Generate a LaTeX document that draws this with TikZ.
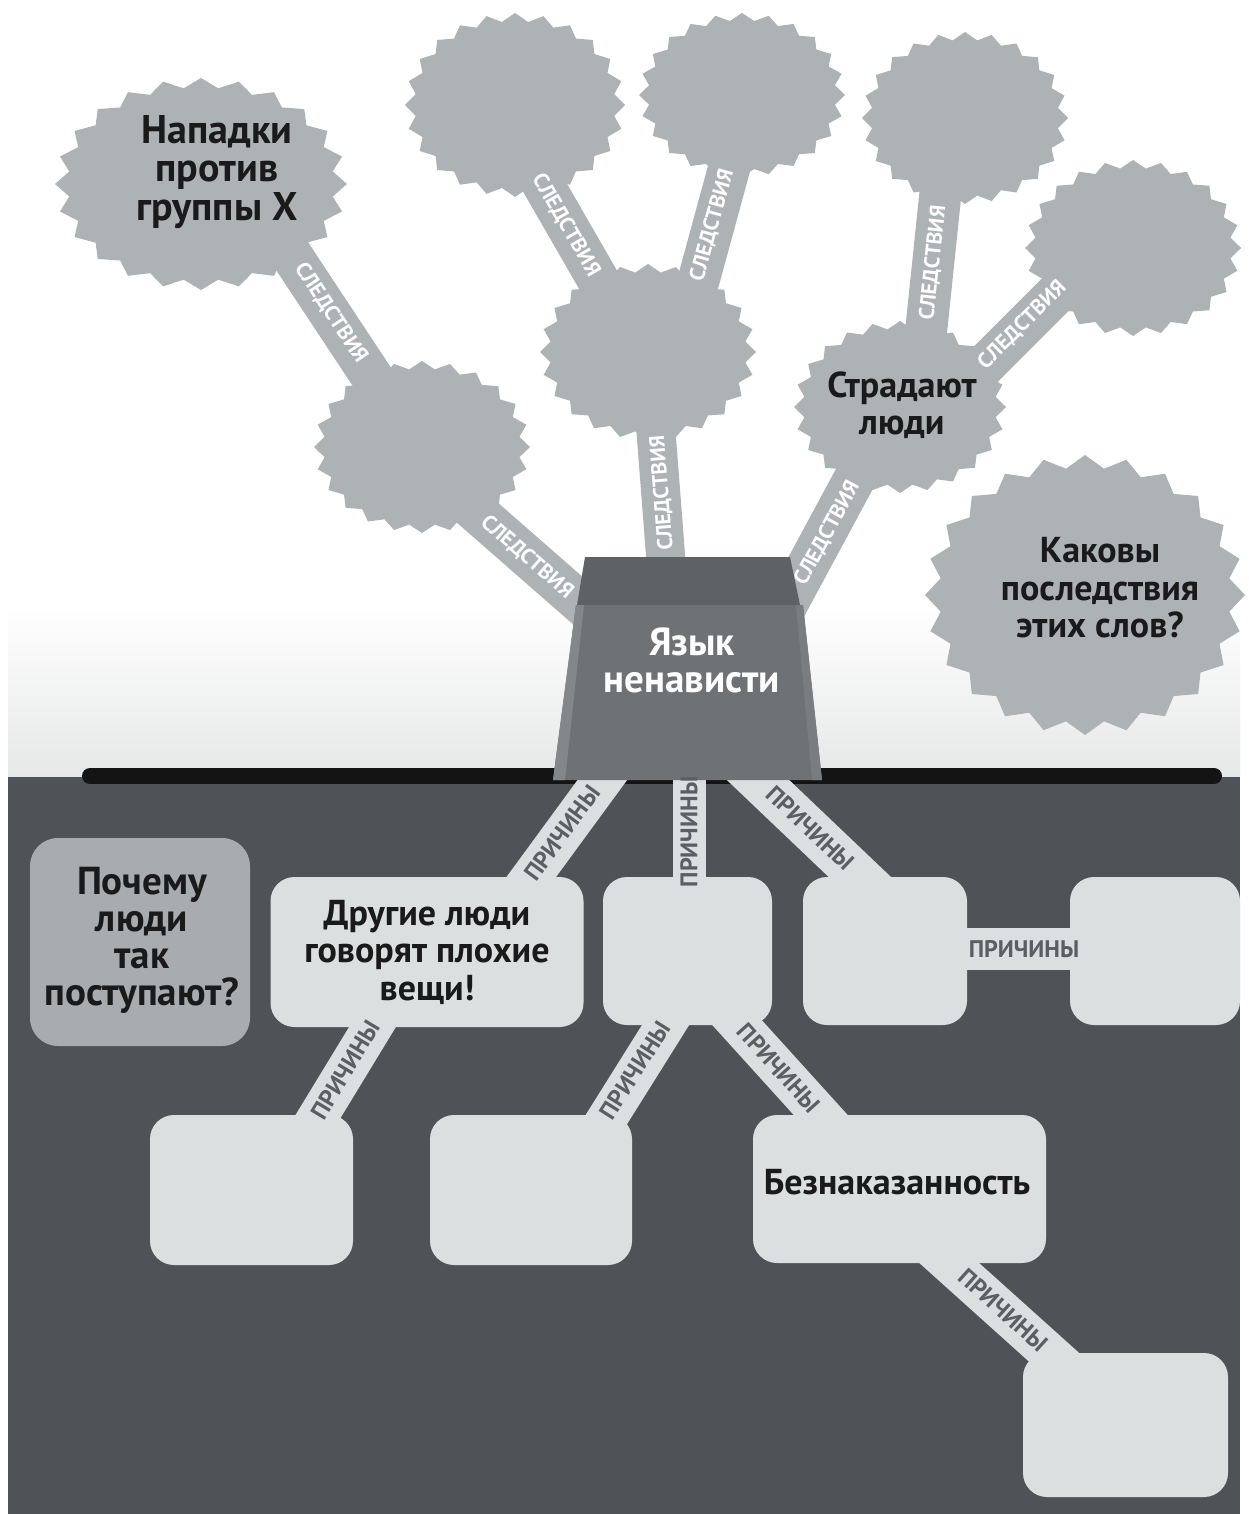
\documentclass[tikz,border=0pt]{standalone}
\usepackage{fontspec}
\setmainfont{PT Sans}
\usetikzlibrary{calc}
\pgfdeclarelayer{bg}
\pgfdeclarelayer{bands}
\pgfdeclarelayer{top}
\pgfsetlayers{bg,bands,main,top}
\definecolor{burstc}{HTML}{ADB2B5}
\definecolor{boxc}{HTML}{DCDFE0}
\definecolor{qboxc}{HTML}{A8ACAF}
\definecolor{groundc}{HTML}{4E5357}
\definecolor{gradc}{HTML}{E6E7E7}
\definecolor{lidc}{HTML}{5F6264}
\definecolor{frontc}{HTML}{6F7275}
\definecolor{lstripc}{HTML}{84878A}
\definecolor{rstripc}{HTML}{7A7D7F}
\definecolor{causetxt}{HTML}{5B5F63}
\definecolor{inkc}{HTML}{1A1A1A}
\tikzset{
  bigtext/.style={font=\bfseries\fontsize{36}{37.5}\selectfont, text=inkc, align=center, inner sep=0pt},
  largetext/.style={font=\bfseries\fontsize{40}{38.5}\selectfont, text=inkc, align=center, inner sep=0pt},
  hatetext/.style={font=\bfseries\fontsize{39}{37}\selectfont, text=white, align=center, inner sep=0pt},
  effband/.style={draw=burstc, line width=42pt},
  causeband/.style={draw=boxc, line width=40pt},
  efflabel/.style={font=\bfseries\fontsize{21.5}{21.5}\selectfont, text=white, inner sep=0pt},
  causelabel/.style={font=\bfseries\fontsize{24}{24}\selectfont, text=causetxt, inner sep=0pt},
  lbox/.style={fill=boxc, rounded corners=24pt, inner sep=0pt},
  qbox/.style={fill=qboxc, rounded corners=28pt, inner sep=0pt},
}
\newcommand{\starblob}[5]{%
  \fill[burstc] plot[variable=\k, samples=49, domain=0:48]
    ({#2+#4*(1-0.045*(1-cos(\k*180)))*cos(\k*7.5)},
     {#3+#5*(1-0.045*(1-cos(\k*180)))*sin(\k*7.5)}) -- cycle;
  \coordinate (#1) at (#2,#3);
}
\begin{document}
\begin{tikzpicture}[x=1pt, y=-1pt]
\useasboundingbox (0,0) rectangle (1248,1514);
\begin{pgfonlayer}{bg}
  \fill[white] (0,0) rectangle (1248,1514);
  \shade[top color=white, bottom color=gradc] (8,607) rectangle (1240,777);
  \fill[groundc] (8,777) rectangle (1240,1514);
  \draw[black!92, line width=16pt, line cap=round] (90,776) -- (1214,776);
\end{pgfonlayer}

% consequence bursts
\starblob{A}{201}{184}{146}{106}
\starblob{B}{422}{447}{108}{86}
\starblob{C}{515}{105}{110}{92}
\starblob{D}{742}{95}{103}{82}
\starblob{E}{648}{352}{108}{88}
\starblob{F}{965}{118}{103}{86}
\starblob{G}{1133}{248}{108}{88}
\starblob{H}{900}{407}{106}{86}
\starblob{I}{1085}{595}{160}{140}

\node[largetext] (At) at (217,172) {Нападки\\против\\группы X};
\node[bigtext] (Ht) at (902,405) {Страдают\\люди};
\node[bigtext] (It) at (1100,588) {Каковы\\последствия\\этих слов?};

% hate speech box
\fill[lidc] (585,557) -- (790,557) -- (800,605) -- (577,605) -- cycle;
\fill[frontc] (576,605) -- (803,605) -- (822,780) -- (553,780) -- cycle;
\fill[lstripc] (576,605) -- (584,605) -- (565,780) -- (553,780) -- cycle;
\fill[rstripc] (796,605) -- (803,605) -- (822,780) -- (812,780) -- cycle;
\node[hatetext] (hate) at (692,660) {Язык\\ненависти};

% cause boxes
\node[qbox, minimum width=220pt, minimum height=208pt] (pq) at (140,942) {};
\node[largetext, font=\bfseries\fontsize{39}{37}\selectfont] (pqt) at (142,940) {Почему\\люди\\так\\поступают?};
\node[lbox, minimum width=313pt, minimum height=150pt, bigtext] (dr) at (427,952) {Другие люди\\говорят плохие\\вещи!};
\node[lbox, minimum width=169pt, minimum height=148pt] (mid) at (687.5,951) {};
\node[lbox, minimum width=164pt, minimum height=148pt] (r1) at (885,951) {};
\node[lbox, minimum width=170pt, minimum height=148pt] (r2) at (1155,951) {};
\node[lbox, minimum width=203pt, minimum height=150pt] (b1) at (251.5,1190) {};
\node[lbox, minimum width=202pt, minimum height=150pt] (b2) at (531,1190) {};
\node[lbox, minimum width=293pt, minimum height=148pt] (bez) at (899.5,1189) {};
\node[bigtext] (bezt) at (897,1182) {Безнаказанность};
\node[lbox, minimum width=205pt, minimum height=144pt] (br) at (1125.5,1425) {};

\begin{pgfonlayer}{bands}
  \draw[effband] ([shift={(54,16)}]A) -- ([shift={(-15,-17)}]B);
  \draw[effband] ([shift={(18,33)}]B) -- ([shift={(-92,-40)}]hate.center);
  \draw[effband] ([shift={(-9,15)}]C) -- ([shift={(-21,-22)}]E);
  \draw[effband] ([shift={(3,15)}]D) -- ([shift={(37,-22)}]E);
  \draw[effband, line width=39pt] ([shift={(4,28)}]E) -- ([shift={(-23,-60)}]hate.center);
  \draw[effband] ([shift={(-19,22)}]F) -- ([shift={(21,-27)}]H);
  \draw[effband] ([shift={(-48,17)}]G) -- ([shift={(55,-12)}]H);
  \draw[effband] ([shift={(-30,43)}]H) -- ([shift={(88,-43)}]hate.center);

  \draw[causeband] ([shift={(-75,100)}]hate.center) -- ([shift={(72,-31)}]dr.center);
  \draw[causeband, line width=33pt] ([shift={(-3,100)}]hate.center) -- ([shift={(1.5,-31)}]mid.center);
  \draw[causeband, line width=43pt] ([shift={(45,100)}]hate.center) -- ([shift={(20,-31)}]r1.center);
  \draw[causeband, line width=42pt] ([shift={(0,-2)}]r1.center) -- ([shift={(0,-2)}]r2.center);
  \draw[causeband] ([shift={(-32,38)}]dr.center) -- ([shift={(40,-30)}]b1.center);
  \draw[causeband] ([shift={(0,39)}]mid.center) -- ([shift={(50,-30)}]b2.center);
  \draw[causeband] ([shift={(20,39)}]mid.center) -- ([shift={(-38,-29)}]bez.center);
  \draw[causeband] ([shift={(13,41)}]bez.center) -- ([shift={(-35,-35)}]br.center);
\end{pgfonlayer}

\begin{pgfonlayer}{top}
  \node[efflabel, rotate=-56.5] (l1) at (331,313) {СЛЕДСТВИЯ};
  \node[efflabel, rotate=-41] (l2) at (527,557) {СЛЕДСТВИЯ};
  \node[efflabel, rotate=-60] (l3) at (566,225) {СЛЕДСТВИЯ};
  \node[efflabel, rotate=74.5] (l4) at (712,225) {СЛЕДСТВИЯ};
  \node[efflabel, rotate=94.5] (l5) at (662,493) {СЛЕДСТВИЯ};
  \node[efflabel, rotate=84] (l6) at (933,263) {СЛЕДСТВИЯ};
  \node[efflabel, rotate=45] (l7) at (1022,325) {СЛЕДСТВИЯ};
  \node[efflabel, rotate=61.7] (l8) at (827,533) {СЛЕДСТВИЯ};

  \node[causelabel, rotate=53.7] (c1) at (562,833) {ПРИЧИНЫ};
  \node[causelabel, rotate=90] (c2) at (689,832) {ПРИЧИНЫ};
  \node[causelabel, rotate=-43.5] (c3) at (810,828) {ПРИЧИНЫ};
  \node[causelabel] (c4) at (1024,949) {ПРИЧИНЫ};
  \node[causelabel, rotate=59] (c5) at (345,1070) {ПРИЧИНЫ};
  \node[causelabel, rotate=57.7] (c6) at (635,1070) {ПРИЧИНЫ};
  \node[causelabel, rotate=-48] (c7) at (779,1068) {ПРИЧИНЫ};
  \node[causelabel, rotate=-42] (c8) at (1003,1310) {ПРИЧИНЫ};
\end{pgfonlayer}
\end{tikzpicture}
\end{document}
